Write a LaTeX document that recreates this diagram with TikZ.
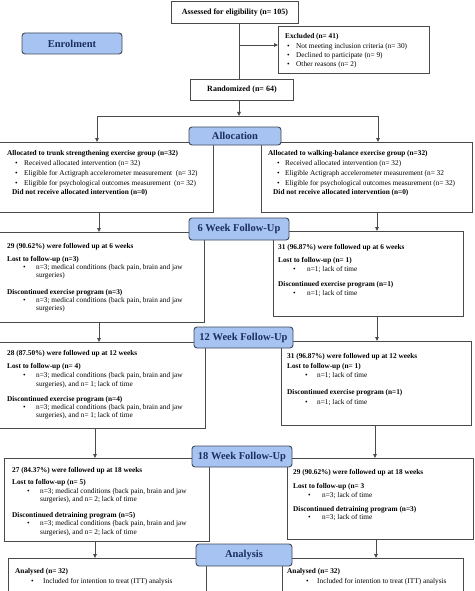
\documentclass[tikz,border=0pt]{standalone}
\usepackage{fontspec}
\setmainfont{Liberation Serif}
\usetikzlibrary{arrows.meta}
\definecolor{lblfill}{HTML}{A6C3F2}
\definecolor{lbldraw}{HTML}{3F4A5A}
\definecolor{lbltext}{HTML}{1B2F5E}
\definecolor{boxline}{HTML}{4A4A4A}
\tikzset{
 panel/.style={draw=boxline, line width=0.9pt, fill=white, inner sep=0pt, anchor=north west},
 stage/.style={draw=lbldraw, fill=lblfill, rounded corners=3pt, line width=0.9pt, inner sep=0pt, font=\fontsize{10.5}{12}\selectfont\bfseries, text=lbltext},
 top/.style={font=\fontsize{8}{9}\selectfont\bfseries},
 hd/.style={anchor=base west, inner sep=0pt, font=\fontsize{7.3}{8}\selectfont\bfseries},
 tx/.style={anchor=base west, inner sep=0pt, font=\fontsize{7.3}{8}\selectfont},
 arr/.style={draw=boxline, line width=0.8pt, -{Triangle[length=4pt,width=3.6pt]}},
 conn/.style={draw=boxline, line width=0.8pt},
}
\begin{document}
\begin{tikzpicture}[x=1pt,y=-1pt]
\useasboundingbox (0,0) rectangle (474,591);
\clip (0,0) rectangle (474,591);
\fill[white] (0,0) rectangle (474,591);
% connector x positions
\coordinate (xc) at (239,0);
\coordinate (xa) at (97,0);
\coordinate (xb) at (378,0);
\coordinate (xl1) at (99,0);
\coordinate (xl2) at (95,0);
\coordinate (xr1) at (377,0);
\coordinate (xr2) at (375,0);
\coordinate (xr3) at (376,0);
\coordinate (jx) at (239,45);
\coordinate (ja) at (239,116);
% boxes
\node[panel, top, minimum width=127pt, minimum height=22pt] (ass) at (171,1) {Assessed for eligibility (n= 105)};
\node[panel, minimum width=151pt, minimum height=47pt] (excl) at (278,26) {};
\node[panel, top, minimum width=103pt, minimum height=21pt] (rand) at (190,79) {Randomized (n= 64)};
\node[panel, minimum width=214pt, minimum height=70pt] (aL) at (-1,142) {};
\node[panel, minimum width=211pt, minimum height=70pt] (aR) at (261,142) {};
\node[panel, minimum width=205pt, minimum height=90pt] (w6L) at (-1,232) {};
\node[panel, minimum width=190pt, minimum height=85pt] (w6R) at (273,231) {};
\node[panel, minimum width=206pt, minimum height=86pt] (w12L) at (-1,342) {};
\node[panel, minimum width=190pt, minimum height=84pt] (w12R) at (281,341) {};
\node[panel, minimum width=205pt, minimum height=83pt] (w18L) at (4,458) {};
\node[panel, minimum width=186pt, minimum height=81pt] (w18R) at (287,458) {};
\node[panel, minimum width=198pt, minimum height=42pt] (anL) at (8,558) {};
\node[panel, minimum width=181pt, minimum height=42pt] (anR) at (282,558) {};
% connectors
\draw[conn] (ass.south -| xc) -- (rand.north -| xc);
\draw[arr] (jx) -- (excl.west |- jx);
\draw[arr] (rand.south -| xc) -- (ja);
\draw[arr] (ja) -| (aL.north -| xa);
\draw[arr] (ja) -| (aR.north -| xb);
\draw[arr] (aL.south -| xl1) -- (w6L.north -| xl1);
\draw[arr] (aR.south -| xr1) -- (w6R.north -| xr1);
\draw[arr] (w6L.south -| xl1) -- (w12L.north -| xl1);
\draw[arr] (w6R.south -| xr1) -- (w12R.north -| xr1);
\draw[arr] (w12L.south -| xl2) -- (w18L.north -| xl2);
\draw[arr] (w12R.south -| xr2) -- (w18R.north -| xr2);
\draw[arr] (w18L.south -| xl2) -- (anL.north -| xl2);
\draw[arr] (w18R.south -| xr3) -- (anR.north -| xr3);
% stage labels
\node[stage, minimum width=100pt, minimum height=21pt] (enrol) at (72,43.5) {Enrolment};
\node[stage, minimum width=92pt, minimum height=18pt] (alloc) at (235,136) {Allocation};
\node[stage, minimum width=100pt, minimum height=22pt] (s6) at (239,229) {6 Week Follow-Up};
\node[stage, minimum width=99pt, minimum height=21pt] (s12) at (243.5,337.5) {12 Week Follow-Up};
\node[stage, minimum width=100pt, minimum height=21pt] (s18) at (242,456.5) {18 Week Follow-Up};
\node[stage, minimum width=96pt, minimum height=22pt] (s24) at (244,555) {Analysis};
% excluded
\node[hd] (e0) at (285,38.5) {Excluded (n= 41)};
\node[tx] (e1b) at (287,48.5) {•};
\node[tx] (e1) at (296,48.5) {Not meeting inclusion criteria (n= 30)};
\node[tx] (e2b) at (287,57.5) {•};
\node[tx] (e2) at (296,57.5) {Declined to participate (n= 9)};
\node[tx] (e3b) at (287,66.5) {•};
\node[tx] (e3) at (296,66.5) {Other reasons (n= 2)};
% allocated left
\node[hd] (al0) at (7,155.5) {Allocated to trunk strengthening exercise group (n=32)};
\node[tx] (al1b) at (15,165.5) {•};
\node[tx] (al1) at (24,165.5) {Received allocated intervention (n= 32)};
\node[tx] (al2b) at (15,175.5) {•};
\node[tx] (al2) at (24,175.5) {Eligible for Actigraph accelerometer measurement~~(n= 32)};
\node[tx] (al3b) at (15,185.5) {•};
\node[tx] (al3) at (24,185.5) {Eligible for psychological outcomes measurement~~(n= 32)};
\node[hd] (al4) at (12,194.5) {Did not receive allocated intervention (n=0)};
% allocated right
\node[hd] (ar0) at (268,155.5) {Allocated to walking-balance exercise group (n=32)};
\node[tx] (ar1b) at (277,165.5) {•};
\node[tx] (ar1) at (285,165.5) {Received allocated intervention (n= 32)};
\node[tx] (ar2b) at (277,175.5) {•};
\node[tx] (ar2) at (285,175.5) {Eligible Actigraph accelerometer measurement (n= 32};
\node[tx] (ar3b) at (277,185.5) {•};
\node[tx] (ar3) at (285,185.5) {Eligible for psychological outcomes measurement (n= 32)};
\node[hd] (ar4) at (273,194.5) {Did not receive allocated intervention (n=0)};
% 6 weeks left
\node[hd] (l60) at (7,248.5) {29 (90.62\%) were followed up at 6 weeks};
\node[hd] (l61) at (7,261.5) {Lost to follow-up (n=3)};
\node[tx] (l62b) at (23,269.5) {•};
\node[tx] (l62) at (36,269.5) {n=3; medical conditions (back pain, brain and jaw};
\node[tx] (l63) at (36,277) {surgeries)};
\node[hd] (l64) at (7,294.5) {Discontinued exercise program (n=3)};
\node[tx] (l65b) at (23,302) {•};
\node[tx] (l65) at (36,302) {n=3; medical conditions (back pain, brain and jaw};
\node[tx] (l66) at (36,310) {surgeries)};
% 6 weeks right
\node[hd] (r60) at (278,249.5) {31 (96.87\%) were followed up at 6 weeks};
\node[hd] (r61) at (278,262.5) {Lost to follow-up (n= 1)};
\node[tx] (r62b) at (293,271.5) {•};
\node[tx] (r62) at (307,271.5) {n=1; lack of time};
\node[hd] (r63) at (278,286.5) {Discontinued exercise program (n=1)};
\node[tx] (r64b) at (293,295.5) {•};
\node[tx] (r64) at (307,295.5) {n=1; lack of time};
% 12 weeks left
\node[hd] (l120) at (7,355.5) {28 (87.50\%) were followed up at 12 weeks};
\node[hd] (l121) at (7,368.5) {Lost to follow-up (n= 4)};
\node[tx] (l122b) at (23,377.5) {•};
\node[tx] (l122) at (36,377.5) {n=3; medical conditions (back pain, brain and jaw};
\node[tx] (l123) at (36,386.5) {surgeries), and n= 1; lack of time};
\node[hd] (l124) at (7,401.5) {Discontinued exercise program (n=4)};
\node[tx] (l125b) at (23,409.5) {•};
\node[tx] (l125) at (36,409.5) {n=3; medical conditions (back pain, brain and jaw};
\node[tx] (l126) at (36,417.5) {surgeries), and n= 1; lack of time};
% 12 weeks right
\node[hd] (r120) at (287,358.5) {31 (96.87\%) were followed up at 12 weeks};
\node[hd] (r121) at (287,368.5) {Lost to follow-up (n= 1)};
\node[tx] (r122b) at (305,377.5) {•};
\node[tx] (r122) at (317,377.5) {n=1; lack of time};
\node[hd] (r123) at (287,394.5) {Discontinued exercise program (n=1)};
\node[tx] (r124b) at (305,404.5) {•};
\node[tx] (r124) at (317,404.5) {n=1; lack of time};
% 18 weeks left
\node[hd] (l180) at (12,472.5) {27 (84.37\%) were followed up at 18 weeks};
\node[hd] (l181) at (12,484.5) {Lost to follow-up (n= 5)};
\node[tx] (l182b) at (27,493.5) {•};
\node[tx] (l182) at (40,493.5) {n=3; medical conditions (back pain, brain and jaw};
\node[tx] (l183) at (40,501.5) {surgeries), and n= 2; lack of time};
\node[hd] (l184) at (12,517.5) {Discontinued detraining program (n=5)};
\node[tx] (l185b) at (27,525.5) {•};
\node[tx] (l185) at (40,525.5) {n=3; medical conditions (back pain, brain and jaw};
\node[tx] (l186) at (40,534) {surgeries), and n= 2; lack of time};
% 18 weeks right
\node[hd] (r180) at (293,474.5) {29 (90.62\%) were followed up at 18 weeks};
\node[hd] (r181) at (293,488.5) {Lost to follow-up (n= 3};
\node[tx] (r182b) at (308,497.5) {•};
\node[tx] (r182) at (322,497.5) {n=3; lack of time};
\node[hd] (r183) at (293,511.5) {Discontinued detraining program (n=3)};
\node[tx] (r184b) at (308,519.5) {•};
\node[tx] (r184) at (322,519.5) {n=3; lack of time};
% analysis
\node[hd] (an0) at (15,573.5) {Analysed (n= 32)};
\node[tx] (an1b) at (31,583.5) {•};
\node[tx] (an1) at (43,583.5) {Included for intention to treat (ITT) analysis};
\node[hd] (bn0) at (287,573.5) {Analysed (n= 32)};
\node[tx] (bn1b) at (306,583.5) {•};
\node[tx] (bn1) at (317,583.5) {Included for intention to treat (ITT) analysis};
\end{tikzpicture}
\end{document}
